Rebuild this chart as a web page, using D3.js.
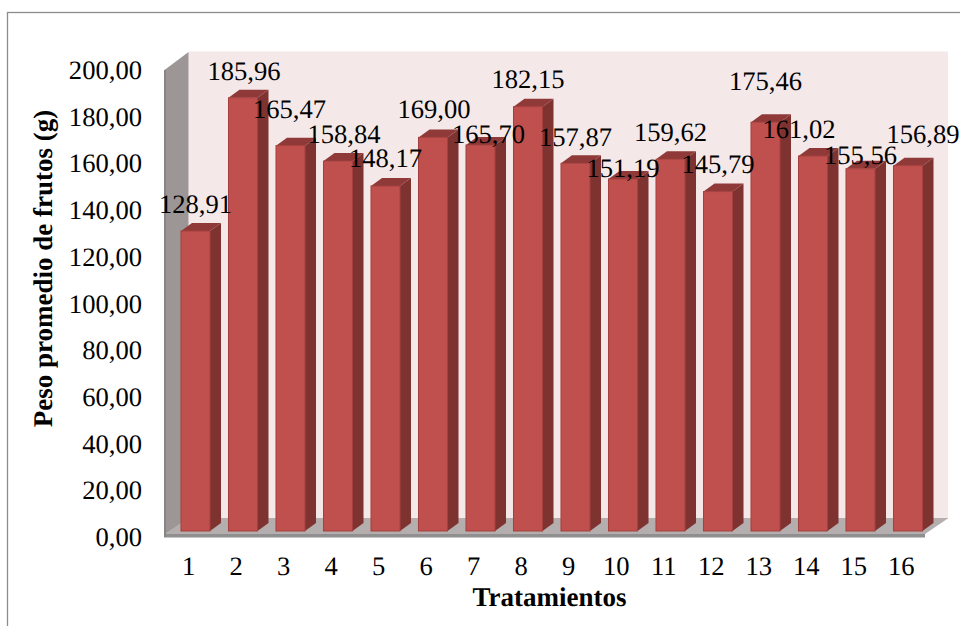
<!DOCTYPE html>
<html><head><meta charset="utf-8">
<script src="https://cdn.jsdelivr.net/npm/d3@7/dist/d3.min.js"></script>
<style>html,body{margin:0;padding:0;background:#fff;overflow:hidden}svg{display:block}text{font-family:"Liberation Serif","Times New Roman",serif;fill:#000;text-rendering:geometricPrecision}</style>
</head><body><svg id="c" width="960" height="626"></svg>
<script>
const categories=["1","2","3","4","5","6","7","8","9","10","11","12","13","14","15","16"];
const values=[128.91,185.96,165.47,158.84,148.17,169.00,165.70,182.15,157.87,151.19,159.62,145.79,175.46,161.02,155.56,156.89];
const yTicks=[0,20,40,60,80,100,120,140,160,180,200];
const labelDx=[0,1,-1,6,0,1,8,0,0,0,0,0,0,-14,0,15];
const labelDy=[-17,-17,-27,-17,-18,-18,-1,-18,-16,-1,-17,-18,-31,-17,-4,-22];
const fmt=v=>v.toFixed(2).replace(".",",");

const svg=d3.select("#c");
const left=164.5,right=925,depX=24,depY=18;
const y=d3.scaleLinear().domain([0,200]).range([536,69]);
const x=d3.scaleBand().domain(categories).range([165,925]).paddingInner(.389).paddingOuter(.1945);
const barShiftX=6.75,barShiftY=-5,barTopShift=-4,bx=11,by=8;
const poly=(pts,fill,stroke)=>svg.append("polygon").attr("points",pts.map(p=>p.join(",")).join(" ")).attr("fill",fill).attr("stroke",stroke||"none");

svg.append("rect").attr("x",7.5).attr("y",12.5).attr("width",1000).attr("height",1000).attr("fill","#fff").attr("stroke","#8c8c8c").attr("stroke-width",1.3);

const y0=y(0),yT=y(200);
poly([[left+depX,yT-depY+.5],[948,yT-depY+.5],[948,y0-depY],[left+depX,y0-depY]],"#f4e8e8");
poly([[left,yT+1],[left+depX,yT-depY+1],[left+depX,y0-depY],[left,y0]],"#9c9696");
poly([[left,y0-2],[left+depX,y0-depY],[948.5,y0-depY],[right,y0-2]],"#b5aeae");
svg.append("rect").attr("x",left-.5).attr("y",y0-2).attr("width",right-left+.5).attr("height",3.5).attr("fill","#8f8f8f");
svg.append("rect").attr("x",left-.5).attr("y",yT+1).attr("width",2).attr("height",y0-yT).attr("fill","#858585");

categories.forEach((c,i)=>{
  const x0=x(c)+barShiftX,w=x.bandwidth(),b=y0+barShiftY,t=y(values[i])+barTopShift;
  poly([[x0+w,t],[x0+w+bx,t-by],[x0+w+bx,b-by],[x0+w,b]],"#7f3331");
  poly([[x0,t],[x0+bx,t-by],[x0+w+bx,t-by],[x0+w,t]],"#8f3a38");
  svg.append("rect").attr("x",x0).attr("y",t).attr("width",w).attr("height",b-t).attr("fill","#c0504d").attr("stroke","#a5403e").attr("stroke-width",1);
});

const yAxis=d3.axisLeft(y).tickValues(yTicks).tickFormat(fmt).tickSize(0).tickPadding(0);
const ya=svg.append("g").attr("transform","translate(142,1)").call(yAxis);
ya.select(".domain").remove();
ya.selectAll("text").attr("font-size",26.6).attr("dy","0.32em");
const xAxis=d3.axisBottom(x).tickSize(0).tickPadding(0);
const xa=svg.append("g").attr("transform","translate(0,575)").call(xAxis);
xa.select(".domain").remove();
xa.selectAll("text").attr("font-size",26.6).attr("dy",0).attr("y",0);

categories.forEach((c,i)=>{
  svg.append("text").attr("x",x(c)+barShiftX+x.bandwidth()/2+labelDx[i]).attr("y",y(values[i])+barShiftY+labelDy[i])
    .attr("text-anchor","middle").attr("font-size",26.6).text(fmt(values[i]));
});

svg.append("text").attr("x",549.5).attr("y",606).attr("text-anchor","middle").attr("font-size",27).attr("font-weight","bold").text("Tratamientos");
svg.append("text").attr("transform","translate(52,268.5) rotate(-90)").attr("text-anchor","middle").attr("font-size",27).attr("font-weight","bold").text("Peso promedio de frutos (g)");
</script></body></html>
